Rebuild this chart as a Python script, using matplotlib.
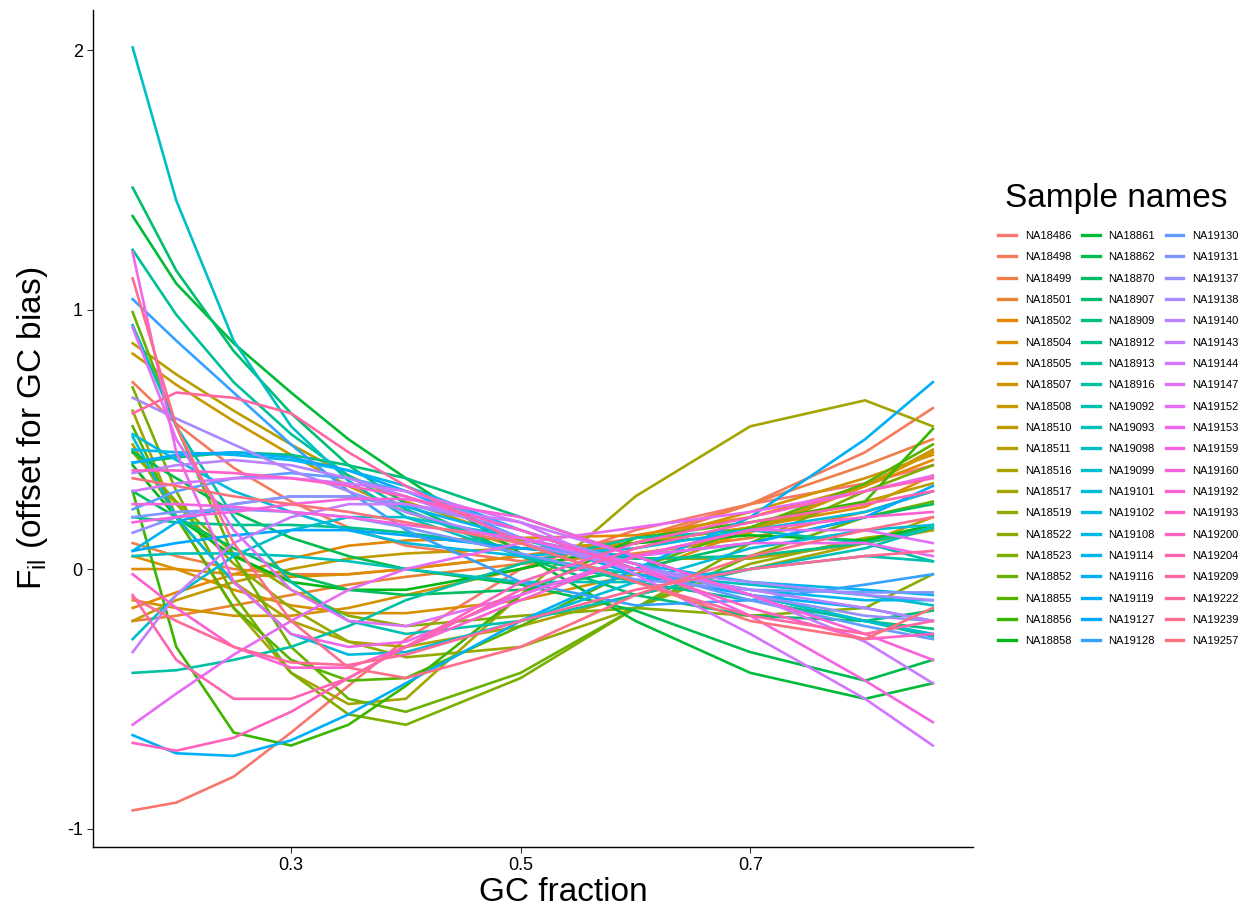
import numpy as np
import matplotlib.pyplot as plt
from matplotlib.lines import Line2D

plt.rcParams['font.family'] = ['Liberation Sans', 'DejaVu Sans']

gc_fraction = [0.162, 0.2, 0.25, 0.3, 0.35, 0.4, 0.5, 0.6, 0.7, 0.8, 0.859]

samples = ['NA18486', 'NA18498', 'NA18499', 'NA18501', 'NA18502', 'NA18504', 'NA18505', 'NA18507',
           'NA18508', 'NA18510', 'NA18511', 'NA18516', 'NA18517', 'NA18519', 'NA18522', 'NA18523',
           'NA18852', 'NA18855', 'NA18856', 'NA18858', 'NA18861', 'NA18862', 'NA18870', 'NA18907',
           'NA18909', 'NA18912', 'NA18913', 'NA18916', 'NA19092', 'NA19093', 'NA19098', 'NA19099',
           'NA19101', 'NA19102', 'NA19108', 'NA19114', 'NA19116', 'NA19119', 'NA19127', 'NA19128',
           'NA19130', 'NA19131', 'NA19137', 'NA19138', 'NA19140', 'NA19143', 'NA19144', 'NA19147',
           'NA19152', 'NA19153', 'NA19159', 'NA19160', 'NA19192', 'NA19193', 'NA19200', 'NA19204',
           'NA19209', 'NA19222', 'NA19239', 'NA19257']

# offset for GC bias, one row per sample, read at gc_fraction
offset = [
    [-0.93, -0.90, -0.80, -0.63, -0.45, -0.27, 0.00, 0.15, 0.25, 0.33, 0.40],
    [0.72, 0.56, 0.39, 0.26, 0.16, 0.09, 0.03, 0.10, 0.25, 0.45, 0.62],
    [0.10, 0.05, 0.00, -0.02, -0.02, 0.00, 0.05, 0.12, 0.25, 0.40, 0.50],
    [-0.20, -0.18, -0.14, -0.10, -0.06, -0.03, 0.02, 0.06, 0.12, 0.22, 0.30],
    [-0.15, -0.09, -0.02, 0.04, 0.09, 0.11, 0.12, 0.13, 0.20, 0.32, 0.42],
    [0.00, 0.00, -0.02, -0.03, -0.02, 0.00, 0.05, 0.10, 0.16, 0.24, 0.36],
    [0.05, 0.00, -0.08, -0.14, -0.17, -0.17, -0.12, -0.02, 0.15, 0.32, 0.45],
    [-0.12, -0.15, -0.18, -0.18, -0.15, -0.10, 0.00, 0.10, 0.22, 0.35, 0.44],
    [0.83, 0.71, 0.57, 0.44, 0.32, 0.22, 0.08, 0.05, 0.14, 0.32, 0.46],
    [-0.20, -0.12, -0.05, 0.00, 0.04, 0.06, 0.08, 0.10, 0.16, 0.26, 0.33],
    [0.87, 0.75, 0.61, 0.48, 0.36, 0.26, 0.11, 0.04, 0.04, 0.10, 0.20],
    [0.48, 0.20, -0.05, -0.20, -0.28, -0.30, -0.22, -0.10, 0.00, 0.10, 0.15],
    [0.61, 0.20, -0.15, -0.40, -0.52, -0.50, -0.10, 0.28, 0.55, 0.65, 0.55],
    [0.46, 0.25, 0.02, -0.15, -0.28, -0.34, -0.30, -0.15, 0.02, 0.12, 0.15],
    [0.45, 0.26, 0.06, -0.08, -0.18, -0.22, -0.18, -0.15, -0.18, -0.15, -0.02],
    [0.70, 0.30, -0.10, -0.40, -0.56, -0.60, -0.42, -0.15, 0.10, 0.30, 0.40],
    [0.99, 0.55, 0.05, -0.30, -0.50, -0.55, -0.40, -0.15, 0.05, 0.20, 0.26],
    [0.55, 0.20, -0.15, -0.35, -0.43, -0.42, -0.22, 0.00, 0.16, 0.33, 0.48],
    [0.30, -0.30, -0.63, -0.68, -0.60, -0.45, -0.10, 0.12, 0.18, 0.26, 0.54],
    [0.40, 0.20, 0.05, -0.05, -0.08, -0.08, 0.00, 0.10, 0.13, 0.11, 0.17],
    [1.36, 1.10, 0.87, 0.68, 0.50, 0.35, 0.06, -0.20, -0.40, -0.50, -0.44],
    [0.45, 0.35, 0.22, 0.12, 0.05, 0.00, -0.06, -0.16, -0.32, -0.43, -0.35],
    [0.30, 0.20, 0.08, -0.02, -0.08, -0.10, -0.08, 0.00, 0.10, 0.20, 0.25],
    [1.47, 1.15, 0.84, 0.60, 0.40, 0.25, 0.05, -0.10, -0.18, -0.20, -0.16],
    [0.41, 0.43, 0.45, 0.44, 0.40, 0.35, 0.20, 0.05, -0.10, -0.20, -0.23],
    [0.20, 0.18, 0.17, 0.17, 0.16, 0.14, 0.08, 0.04, 0.05, 0.10, 0.16],
    [1.23, 0.98, 0.72, 0.52, 0.36, 0.23, 0.05, -0.05, -0.12, -0.20, -0.26],
    [-0.40, -0.39, -0.35, -0.30, -0.22, -0.12, 0.02, 0.12, 0.15, 0.10, 0.03],
    [0.94, 0.55, 0.20, -0.05, -0.20, -0.25, -0.20, -0.10, 0.00, 0.05, 0.03],
    [0.05, 0.06, 0.06, 0.05, 0.03, 0.00, -0.05, -0.05, 0.00, 0.08, 0.16],
    [2.01, 1.42, 0.88, 0.55, 0.34, 0.20, 0.05, -0.02, -0.06, -0.10, -0.14],
    [-0.27, -0.10, 0.05, 0.15, 0.20, 0.20, 0.12, 0.02, -0.10, -0.20, -0.25],
    [0.51, 0.20, -0.05, -0.25, -0.33, -0.32, -0.20, -0.05, 0.08, 0.15, 0.17],
    [0.52, 0.42, 0.30, 0.22, 0.15, 0.10, 0.05, 0.08, 0.15, 0.22, 0.30],
    [0.46, 0.45, 0.44, 0.42, 0.38, 0.32, 0.15, 0.00, -0.08, -0.12, -0.12],
    [0.07, 0.18, 0.25, 0.28, 0.28, 0.24, 0.12, 0.02, -0.05, -0.08, -0.10],
    [-0.64, -0.71, -0.72, -0.66, -0.56, -0.44, -0.20, 0.00, 0.20, 0.50, 0.72],
    [0.41, 0.44, 0.45, 0.43, 0.38, 0.30, 0.12, -0.02, -0.10, -0.15, -0.20],
    [0.07, 0.10, 0.13, 0.15, 0.15, 0.13, 0.08, 0.05, 0.10, 0.20, 0.32],
    [1.04, 0.88, 0.68, 0.48, 0.30, 0.15, -0.05, -0.14, -0.12, -0.06, -0.02],
    [0.23, 0.30, 0.35, 0.37, 0.35, 0.30, 0.15, 0.00, -0.12, -0.22, -0.27],
    [0.20, 0.22, 0.23, 0.22, 0.20, 0.16, 0.06, -0.04, -0.08, -0.09, -0.09],
    [0.14, 0.20, 0.25, 0.28, 0.28, 0.25, 0.15, 0.02, -0.10, -0.18, -0.20],
    [0.66, 0.58, 0.48, 0.38, 0.30, 0.22, 0.10, 0.00, -0.05, -0.10, -0.12],
    [0.37, 0.40, 0.42, 0.40, 0.35, 0.28, 0.12, 0.00, -0.08, -0.15, -0.20],
    [-0.32, -0.10, 0.10, 0.20, 0.25, 0.25, 0.18, 0.05, -0.10, -0.28, -0.44],
    [0.30, 0.33, 0.35, 0.35, 0.33, 0.30, 0.18, -0.02, -0.25, -0.50, -0.68],
    [0.93, 0.50, 0.15, -0.08, -0.20, -0.22, -0.10, 0.05, 0.15, 0.15, 0.10],
    [-0.60, -0.48, -0.33, -0.20, -0.08, 0.00, 0.10, 0.16, 0.22, 0.30, 0.36],
    [1.22, 0.45, -0.05, -0.25, -0.30, -0.28, -0.10, 0.05, 0.10, 0.10, 0.05],
    [0.25, 0.25, 0.24, 0.22, 0.20, 0.17, 0.12, 0.02, -0.18, -0.43, -0.59],
    [0.18, 0.20, 0.22, 0.25, 0.27, 0.27, 0.20, 0.05, -0.10, -0.25, -0.35],
    [-0.02, -0.15, -0.30, -0.38, -0.38, -0.30, -0.12, 0.05, 0.15, 0.20, 0.22],
    [0.38, 0.38, 0.37, 0.35, 0.32, 0.28, 0.15, 0.00, -0.15, -0.27, -0.25],
    [-0.67, -0.70, -0.65, -0.55, -0.42, -0.30, -0.05, 0.10, 0.20, 0.30, 0.35],
    [-0.10, -0.35, -0.50, -0.50, -0.42, -0.30, -0.08, 0.08, 0.18, 0.25, 0.30],
    [0.60, 0.68, 0.66, 0.60, 0.45, 0.32, 0.10, -0.05, -0.18, -0.25, -0.20],
    [-0.11, -0.20, -0.30, -0.36, -0.37, -0.33, -0.20, -0.08, 0.00, 0.05, 0.07],
    [1.12, 0.55, 0.10, -0.20, -0.38, -0.42, -0.30, -0.10, 0.05, 0.15, 0.20],
    [0.35, 0.32, 0.28, 0.25, 0.22, 0.18, 0.10, -0.05, -0.20, -0.27, -0.15],
]


def hue_pal(n, c=100.0, l=65.0):
    # ggplot2 default discrete palette (HCL hues from 15 to 375)
    xn, yn, zn = 95.047, 100.0, 108.883
    un = 4 * xn / (xn + 15 * yn + 3 * zn)
    vn = 9 * yn / (xn + 15 * yn + 3 * zn)
    m = np.array([[3.240479, -1.537150, -0.498535],
                  [-0.969256, 1.875992, 0.041556],
                  [0.055648, -0.204043, 1.057311]])
    cols = []
    for h in np.linspace(15, 375, n + 1)[:n]:
        u = c * np.cos(np.deg2rad(h))
        v = c * np.sin(np.deg2rad(h))
        Y = yn * (((l + 16) / 116) ** 3 if l > 8 else l / 903.3)
        up = u / (13 * l) + un
        vp = v / (13 * l) + vn
        X = 9.0 * Y * up / (4 * vp)
        Z = -X / 3 - 5 * Y + 3 * Y / vp
        rgb = m @ (np.array([X, Y, Z]) / 100.0)
        rgb = np.where(rgb > 0.00304, 1.055 * np.abs(rgb) ** (1 / 2.4) - 0.055, 12.92 * rgb)
        cols.append(tuple(np.clip(rgb, 0, 1)))
    return cols


colors = hue_pal(len(samples))

fig = plt.figure(figsize=(12.49, 9.13), dpi=100)
ax = fig.add_axes([0.0745, 0.0723, 0.7045, 0.9167])

for name, vals, col in zip(samples, offset, colors):
    ax.plot(gc_fraction, vals, color=col, lw=1.9, solid_joinstyle='round', label=name)

ax.set_xlim(0.1275, 0.894)
ax.set_ylim(-1.071, 2.154)
ax.set_xticks([0.3, 0.5, 0.7])
ax.set_xticklabels(['0.3', '0.5', '0.7'])
ax.set_yticks([-1, 0, 1, 2])
ax.set_yticklabels(['-1', '0', '1', '2'])
ax.tick_params(labelsize=13, length=4, width=0.8, color='#333333', labelcolor='black')
for s in ['top', 'right']:
    ax.spines[s].set_visible(False)
for s in ['left', 'bottom']:
    ax.spines[s].set_linewidth(1.0)
    ax.spines[s].set_color('black')

ax.set_xlabel('GC fraction', fontsize=24)
ax.xaxis.set_label_coords(0.535, -0.036, transform=ax.transAxes)
ax.xaxis.label.set_va('top')
ax.set_ylabel(r'$\mathregular{F_{il}}$ (offset for GC bias)', fontsize=24, labelpad=12)

fig.text(1116 / 1249, 1 - 207 / 913, 'Sample names', fontsize=24, ha='center', va='baseline')
handles = [Line2D([0], [0], color=c, lw=2.4) for c in colors]
fig.legend(handles, samples, ncol=3, loc='upper left', bbox_to_anchor=(998 / 1249, 1 - 231 / 913),
           frameon=False, fontsize=8, handlelength=1.6, handletextpad=0.8,
           labelspacing=1.02, columnspacing=0.95, borderpad=0, borderaxespad=0)

fig.savefig('out.png', dpi=100)
